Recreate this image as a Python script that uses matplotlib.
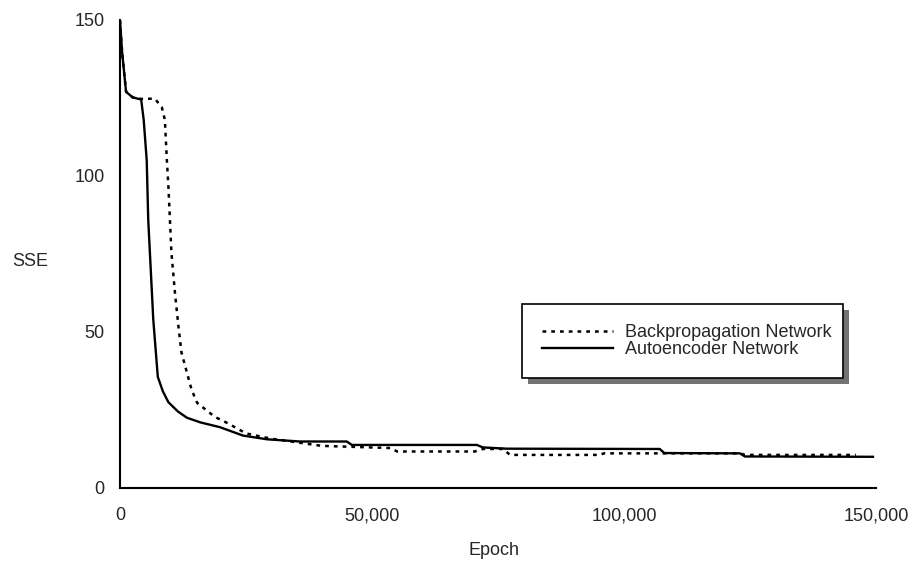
import matplotlib
matplotlib.use("Agg")
import matplotlib.pyplot as plt
from matplotlib.patches import Rectangle

plt.rcParams['font.family'] = ['Liberation Sans', 'DejaVu Sans']

# values (epoch, SSE)
auto_epoch = [0, 400, 1200, 2500, 4200, 4700, 5300, 5600, 6600, 7500, 8500, 9600,
              11500, 13300, 16000, 19800, 24400, 29200, 35700, 45000, 46000, 70800,
              72000, 76700, 107100, 108000, 123000, 124000, 149400]
auto_sse = [150, 140, 127, 125.2, 124.5, 118, 105, 86, 54, 35.6, 31, 27.5,
            24.5, 22.5, 21, 19.5, 16.8, 15.6, 14.9, 14.9, 13.8, 13.8,
            13.0, 12.6, 12.5, 11.2, 11.1, 10.1, 10.0]

bp_epoch = [0, 400, 1200, 2500, 4200, 6900, 8300, 8900, 9300, 9600, 10200, 10900,
            11600, 12200, 14200, 15300, 18800, 21200, 25000, 30000, 35700, 40000,
            53600, 55000, 70400, 72000, 76000, 77400, 95200, 96000, 123000, 124000,
            146000]
bp_sse = [150, 140, 127, 125.2, 124.7, 124.8, 122, 118, 105, 96.7, 75.5, 62.6,
          51.7, 43.4, 31.5, 27.3, 22.8, 20.9, 17.5, 15.8, 14.5, 13.5,
          12.8, 11.7, 11.7, 12.5, 12.5, 10.6, 10.6, 11.1, 11.1, 10.6,
          10.6]

x_ticks = [0, 50000, 100000, 150000]
x_labels = ['0', '50,000', '100,000', '150,000']
y_ticks = [0, 50, 100, 150]

fig = plt.figure(figsize=(9.14, 5.76), dpi=100)
ax = fig.add_axes([0.1313, 0.1528, 0.8271, 0.8125])

ax.plot(bp_epoch, bp_sse, color='black', lw=1.8, linestyle=(0, (1.5, 2)),
        label='Backpropagation Network')
ax.plot(auto_epoch, auto_sse, color='black', lw=1.7, label='Autoencoder Network')

ax.set_xlim(0, 150000)
ax.set_ylim(0, 150)
ax.set_xticks(x_ticks)
ax.set_xticklabels(x_labels)
ax.set_yticks(y_ticks)
ax.tick_params(length=0, labelsize=13, colors='0.15')
ax.tick_params(axis='y', pad=11)
ax.tick_params(axis='x', pad=14)
for s in ['top', 'right']:
    ax.spines[s].set_visible(False)
for s in ['left', 'bottom']:
    ax.spines[s].set_linewidth(1.5)

ax.set_xlabel('Epoch', fontsize=13, color='0.15')
ax.set_ylabel('SSE', fontsize=13, color='0.15', rotation=0)
ax.xaxis.set_label_coords(0.495, -0.115)
ax.yaxis.set_label_coords(-0.119, 0.466)

leg = ax.legend(loc='center', bbox_to_anchor=(0.532, 0.231, 0.424, 0.166),
                mode='expand', borderaxespad=0, fontsize=13, borderpad=1.12,
                labelspacing=0.0, handlelength=3.9, handletextpad=0.65,
                fancybox=False, edgecolor='black', framealpha=1)
leg.get_frame().set_linewidth(1.2)
leg.set_zorder(6)
for t in leg.get_texts():
    t.set_color('0.15')

# drop shadow behind the legend box
fig.canvas.draw()
bb = leg.get_window_extent().transformed(fig.transFigure.inverted())
dx, dy = 6 / 914, 6 / 576
shadow = Rectangle((bb.x0 + dx, bb.y0 - dy), bb.width, bb.height,
                   transform=fig.transFigure, facecolor='0.45',
                   edgecolor='none', zorder=5, clip_on=False)
ax.add_artist(shadow)

fig.savefig('out.png', dpi=100)
